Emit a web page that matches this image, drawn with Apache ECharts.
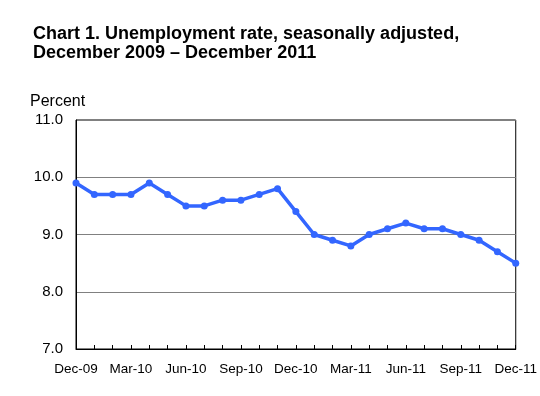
<!DOCTYPE html>
<html><head><meta charset="utf-8">
<script src="https://cdn.jsdelivr.net/npm/echarts@6/dist/echarts.min.js"></script>
<style>html,body{margin:0;padding:0;background:#fff}#c{width:540px;height:396px}</style>
</head><body><div id="c"></div>
<script>
const categories = ["Dec-09","Jan-10","Feb-10","Mar-10","Apr-10","May-10","Jun-10","Jul-10","Aug-10","Sep-10","Oct-10","Nov-10","Dec-10","Jan-11","Feb-11","Mar-11","Apr-11","May-11","Jun-11","Jul-11","Aug-11","Sep-11","Oct-11","Nov-11","Dec-11"];
const rates = [9.9,9.7,9.7,9.7,9.9,9.7,9.5,9.5,9.6,9.6,9.7,9.8,9.4,9.0,8.9,8.8,9.0,9.1,9.2,9.1,9.1,9.0,8.9,8.7,8.5];
const yTicks = [7, 8, 9, 10, 11];
const font = "Liberation Sans, Arial, sans-serif";
const chart = echarts.init(document.getElementById('c'));
chart.setOption({
  animation: false,
  title: {
    text: "Chart 1. Unemployment rate, seasonally adjusted,\nDecember 2009 – December 2011",
    left: 28, top: 20,
    textStyle: {fontFamily: font, fontSize: 18, fontWeight: 'bold', color: '#000', lineHeight: 19}
  },
  graphic: [{type: 'text', left: 30, top: 94, style: {text: 'Percent', font: '16px ' + font, fill: '#000'}}],
  grid: {left: 76, right: 24, top: 120, bottom: 47, show: true, borderColor: '#000', borderWidth: 1},
  xAxis: {
    type: 'category', data: categories, boundaryGap: false,
    axisLine: {lineStyle: {color: '#000', width: 1}},
    axisTick: {inside: true, interval: 0, length: 4, lineStyle: {color: '#000'}},
    axisLabel: {interval: 2, color: '#000', fontFamily: font, fontSize: 13.5, margin: 13},
    splitLine: {show: false}
  },
  yAxis: {
    type: 'value', min: yTicks[0], max: yTicks[yTicks.length-1], interval: 1,
    axisLine: {show: true, lineStyle: {color: '#000'}},
    axisTick: {show: false},
    axisLabel: {color: '#000', fontFamily: font, fontSize: 15, margin: 13, formatter: v => v.toFixed(1)},
    splitLine: {lineStyle: {color: '#808080', width: 1}}
  },
  series: [{
    type: 'line', data: rates,
    lineStyle: {color: '#3366FF', width: 3.5},
    itemStyle: {color: '#3366FF'},
    symbol: 'circle', symbolSize: 7
  }]
});
</script></body></html>
